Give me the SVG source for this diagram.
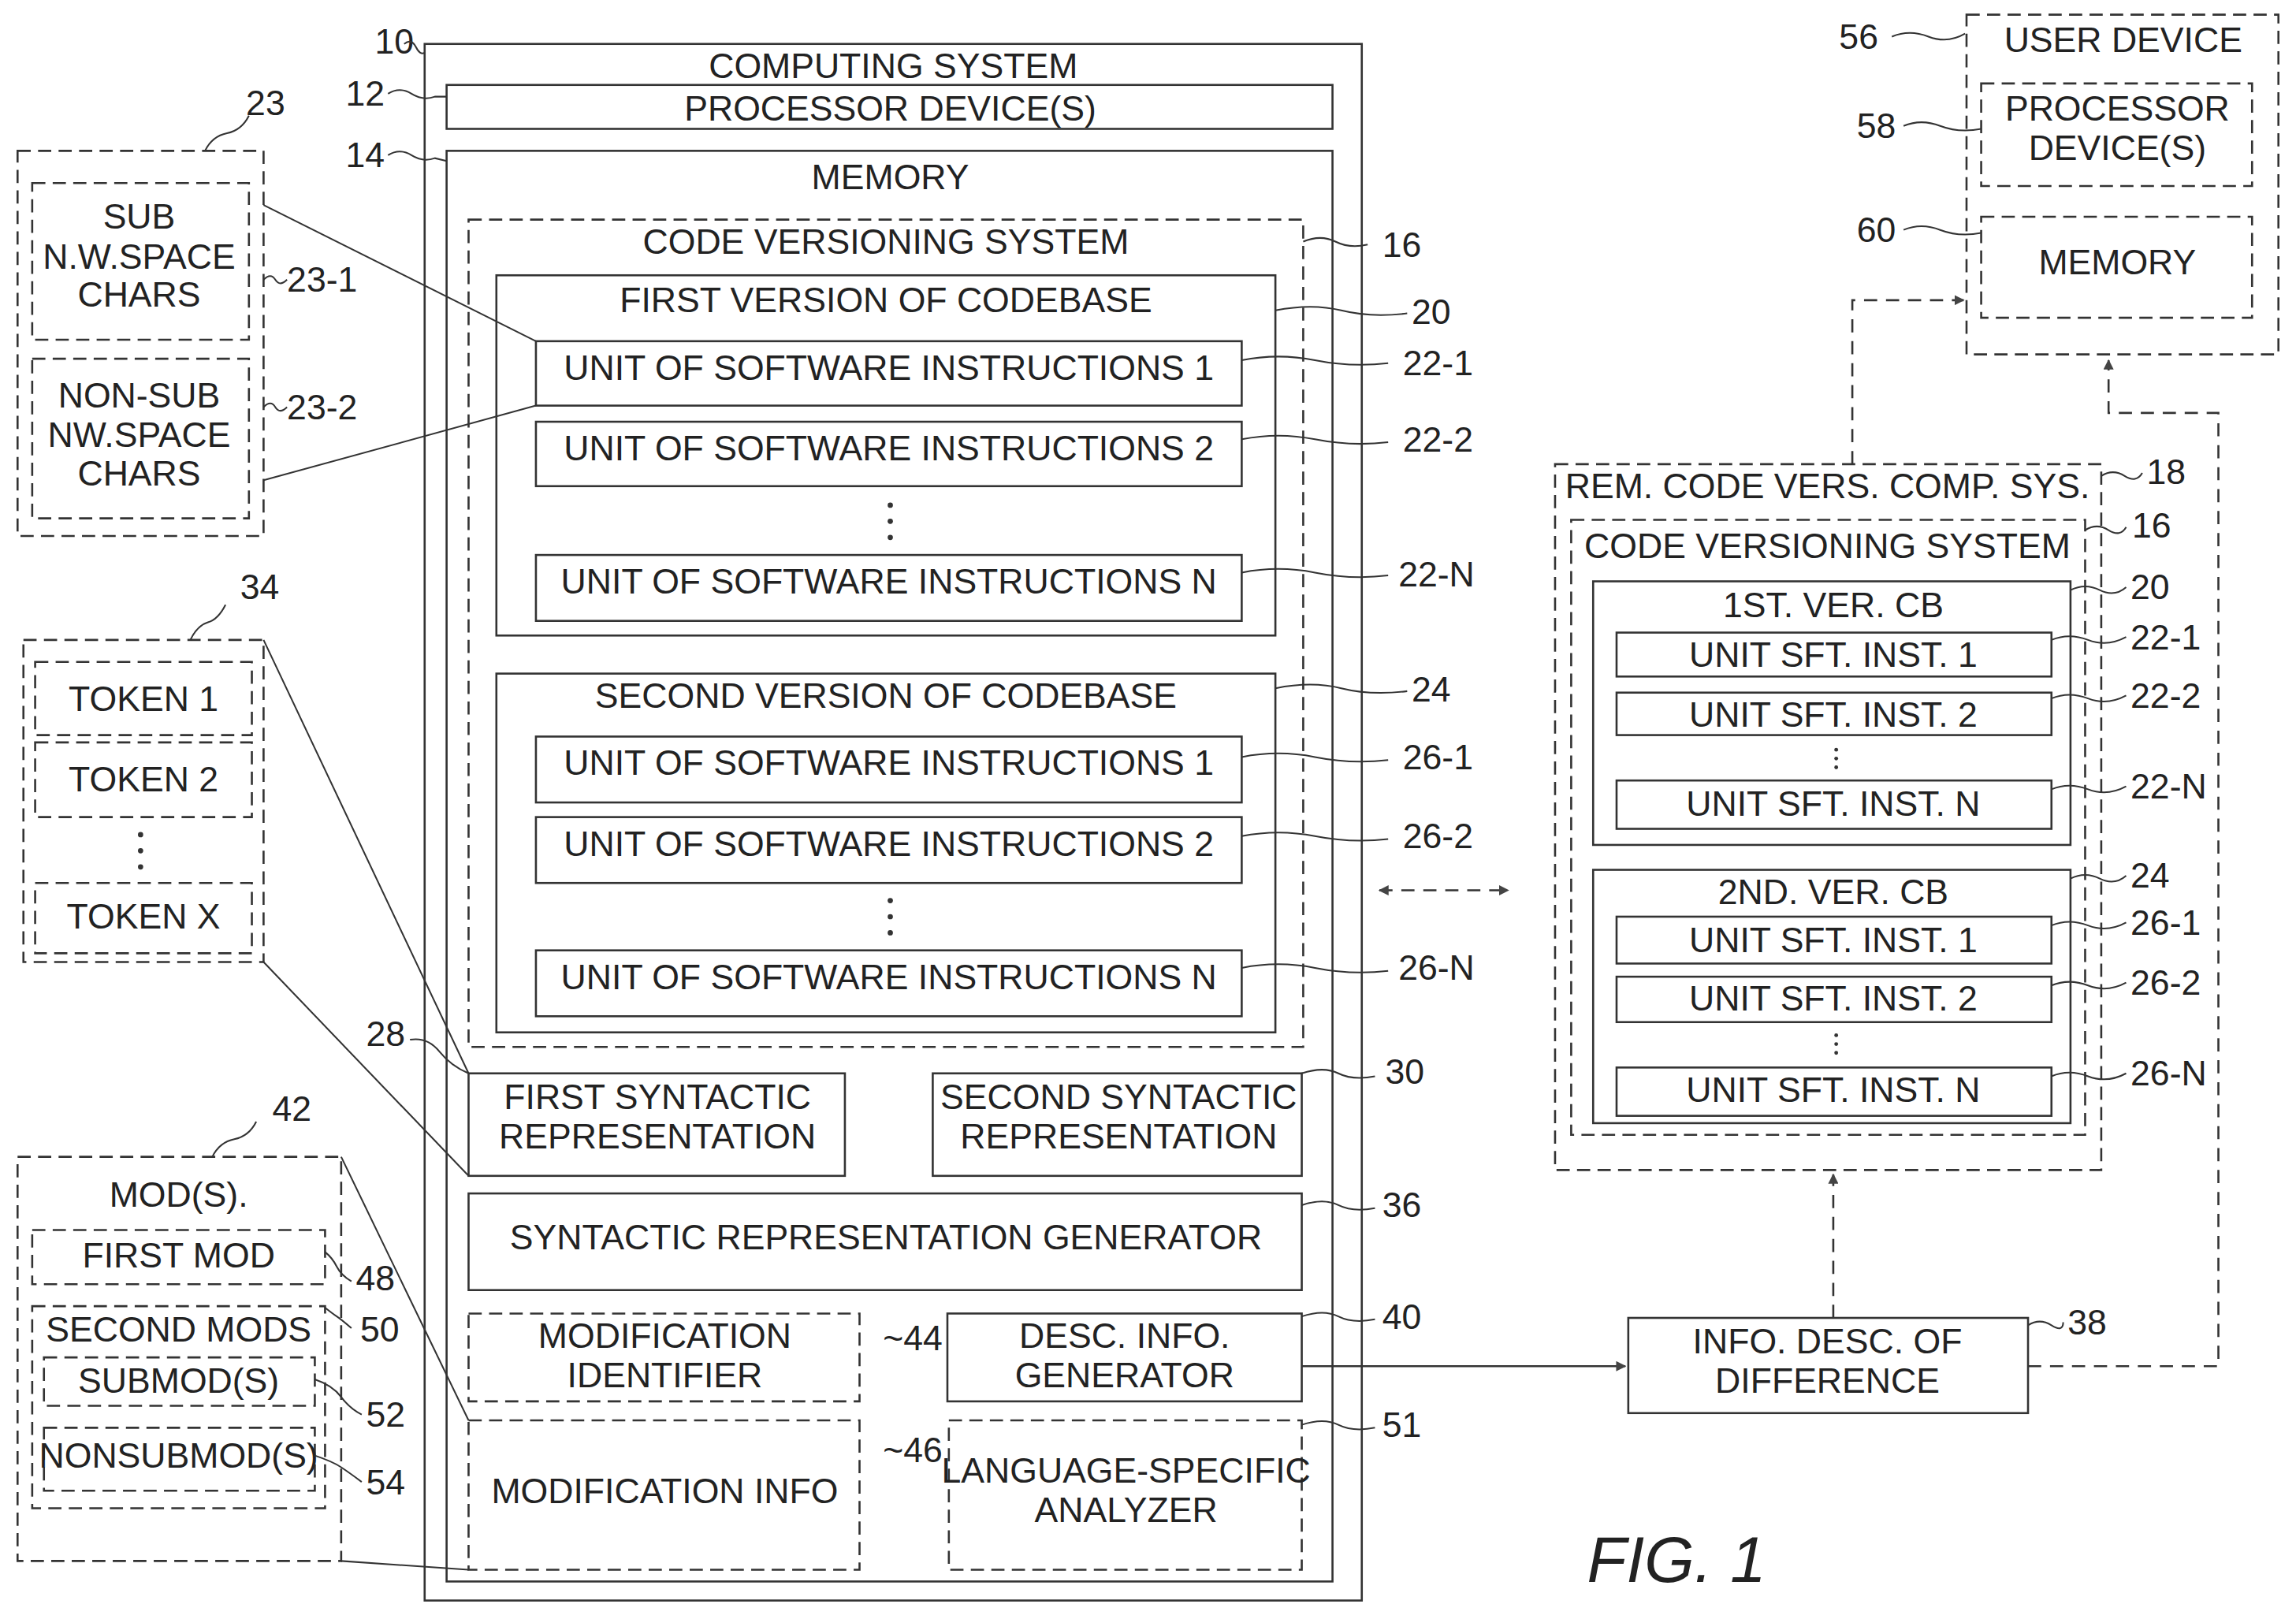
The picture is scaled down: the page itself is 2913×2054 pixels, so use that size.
<svg xmlns="http://www.w3.org/2000/svg" width="2913" height="2054" viewBox="0 0 2913 2054">
<style>
text{font-family:"Liberation Sans Narrow","Liberation Sans",Arial,sans-serif;font-size:24px;fill:#222;text-anchor:middle;dominant-baseline:central}
.lb{text-anchor:start}
.s{fill:none;stroke:#333;stroke-width:1.4}
.d{fill:none;stroke:#333;stroke-width:1.4;stroke-dasharray:9,5}
.l{fill:none;stroke:#333;stroke-width:1.1}
.a{fill:none;stroke:#333;stroke-width:1.4;stroke-dasharray:9,6}
</style>
<defs>
<marker id="ah" viewBox="0 0 10 10" refX="9" refY="5" markerWidth="7" markerHeight="7" orient="auto-start-reverse" markerUnits="userSpaceOnUse"><path d="M0,0 L10,5 L0,10 z" fill="#444"/></marker>
</defs>
<rect width="2913" height="2054" fill="#fff"/>
<g transform="scale(1.85778)">
<g id="n10"><rect class="s" x="290" y="30" width="640" height="1063"/><text x="610" y="45">COMPUTING SYSTEM</text><text class="lb" x="256" y="28">10</text></g>
<g id="n12"><rect class="s" x="305" y="58" width="605" height="30"/><text x="608" y="74">PROCESSOR DEVICE(S)</text><text class="lb" x="236" y="64">12</text></g>
<g id="n14"><rect class="s" x="305" y="103" width="605" height="977"/><text x="608" y="121">MEMORY</text><text class="lb" x="236" y="106">14</text></g>
<g id="n16"><rect class="d" x="320" y="150" width="570" height="565"/><text x="605" y="165">CODE VERSIONING SYSTEM</text><text class="lb" x="944" y="167">16</text></g>
<g id="n20"><rect class="s" x="339" y="188" width="532" height="246"/><text x="605" y="205">FIRST VERSION OF CODEBASE</text><text class="lb" x="964" y="213">20</text></g>
<g id="n22-1"><rect class="s" x="366" y="233" width="482" height="44"/><text x="607" y="251">UNIT OF SOFTWARE INSTRUCTIONS 1</text><text class="lb" x="958" y="248">22-1</text></g>
<g id="n22-2"><rect class="s" x="366" y="288" width="482" height="44"/><text x="607" y="306">UNIT OF SOFTWARE INSTRUCTIONS 2</text><text class="lb" x="958" y="300">22-2</text></g>
<g id="n22-N"><rect class="s" x="366" y="379" width="482" height="45"/><text x="607" y="397">UNIT OF SOFTWARE INSTRUCTIONS N</text><text class="lb" x="955" y="392">22-N</text></g>
<g id="n24"><rect class="s" x="339" y="460" width="532" height="245"/><text x="605" y="475">SECOND VERSION OF CODEBASE</text><text class="lb" x="964" y="471">24</text></g>
<g id="n26-1"><rect class="s" x="366" y="503" width="482" height="45"/><text x="607" y="521">UNIT OF SOFTWARE INSTRUCTIONS 1</text><text class="lb" x="958" y="517">26-1</text></g>
<g id="n26-2"><rect class="s" x="366" y="558" width="482" height="45"/><text x="607" y="576">UNIT OF SOFTWARE INSTRUCTIONS 2</text><text class="lb" x="958" y="571">26-2</text></g>
<g id="n26-N"><rect class="s" x="366" y="649" width="482" height="45"/><text x="607" y="667">UNIT OF SOFTWARE INSTRUCTIONS N</text><text class="lb" x="955" y="661">26-N</text></g>
<g id="dots"><g fill="#333"><circle cx="608" cy="345" r="1.8"/><circle cx="608" cy="356" r="1.8"/><circle cx="608" cy="367" r="1.8"/><circle cx="608" cy="615" r="1.8"/><circle cx="608" cy="626" r="1.8"/><circle cx="608" cy="637" r="1.8"/><circle cx="96" cy="570" r="1.8"/><circle cx="96" cy="581" r="1.8"/><circle cx="96" cy="592" r="1.8"/><circle cx="1254" cy="512" r="1.3"/><circle cx="1254" cy="518" r="1.3"/><circle cx="1254" cy="524" r="1.3"/><circle cx="1254" cy="707" r="1.3"/><circle cx="1254" cy="713" r="1.3"/><circle cx="1254" cy="719" r="1.3"/></g></g>
<g id="n28"><rect class="s" x="320" y="733" width="257" height="70"/><text x="449" y="749">FIRST SYNTACTIC</text><text x="449" y="776">REPRESENTATION</text><text class="lb" x="250" y="706">28</text></g>
<g id="n30"><rect class="s" x="637" y="733" width="252" height="70"/><text x="764" y="749">SECOND SYNTACTIC</text><text x="764" y="776">REPRESENTATION</text><text class="lb" x="946" y="732">30</text></g>
<g id="n36"><rect class="s" x="320" y="815" width="569" height="66"/><text x="605" y="845">SYNTACTIC REPRESENTATION GENERATOR</text><text class="lb" x="944" y="823">36</text></g>
<g id="n44"><rect class="d" x="320" y="897" width="267" height="60"/><text x="454" y="912">MODIFICATION</text><text x="454" y="939">IDENTIFIER</text><text class="lb" x="603" y="914">~44</text></g>
<g id="n40"><rect class="s" x="647" y="897" width="242" height="60"/><text x="768" y="912">DESC. INFO.</text><text x="768" y="939">GENERATOR</text><text class="lb" x="944" y="899">40</text></g>
<g id="n46"><rect class="d" x="320" y="970" width="267" height="102"/><text x="454" y="1018">MODIFICATION INFO</text><text class="lb" x="603" y="990">~46</text></g>
<g id="n51"><rect class="d" x="648" y="970" width="241" height="102"/><text x="769" y="1004">LANGUAGE-SPECIFIC</text><text x="769" y="1031">ANALYZER</text><text class="lb" x="944" y="973">51</text></g>
<g id="n23"><rect class="d" x="12" y="103" width="168" height="263"/><text class="lb" x="168" y="70">23</text></g>
<g id="n23-1"><rect class="d" x="22" y="125" width="148" height="107"/><text x="95" y="148">SUB</text><text x="95" y="175">N.W.SPACE</text><text x="95" y="201">CHARS</text><text class="lb" x="196" y="191">23-1</text></g>
<g id="n23-2"><rect class="d" x="22" y="245" width="148" height="109"/><text x="95" y="270">NON-SUB</text><text x="95" y="297">NW.SPACE</text><text x="95" y="323">CHARS</text><text class="lb" x="196" y="278">23-2</text></g>
<g id="n34"><rect class="d" x="16" y="437" width="164" height="220"/><text class="lb" x="164" y="401">34</text></g>
<g id="tok1"><rect class="d" x="24" y="452" width="148" height="50"/><text x="98" y="477">TOKEN 1</text></g>
<g id="tok2"><rect class="d" x="24" y="507" width="148" height="51"/><text x="98" y="532">TOKEN 2</text></g>
<g id="tokX"><rect class="d" x="24" y="603" width="148" height="48"/><text x="98" y="626">TOKEN X</text></g>
<g id="n42"><rect class="d" x="12" y="790" width="221" height="276"/><text x="122" y="816">MOD(S).</text><text class="lb" x="186" y="757">42</text></g>
<g id="n48"><rect class="d" x="22" y="840" width="200" height="37"/><text x="122" y="857">FIRST MOD</text><text class="lb" x="243" y="873">48</text></g>
<g id="n50"><rect class="d" x="22" y="892" width="200" height="138"/><text x="122" y="908">SECOND MODS</text><text class="lb" x="246" y="908">50</text></g>
<g id="n52"><rect class="d" x="30" y="927" width="185" height="33"/><text x="122" y="943">SUBMOD(S)</text><text class="lb" x="250" y="966">52</text></g>
<g id="n54"><rect class="d" x="30" y="975" width="185" height="43"/><text x="122" y="994">NONSUBMOD(S)</text><text class="lb" x="250" y="1012">54</text></g>
<g id="n56"><rect class="d" x="1343" y="10" width="213" height="232"/><text x="1450" y="27">USER DEVICE</text><text class="lb" x="1256" y="25">56</text></g>
<g id="n58"><rect class="d" x="1353" y="57" width="185" height="70"/><text x="1446" y="74">PROCESSOR</text><text x="1446" y="101">DEVICE(S)</text><text class="lb" x="1268" y="86">58</text></g>
<g id="n60"><rect class="d" x="1353" y="148" width="185" height="69"/><text x="1446" y="179">MEMORY</text><text class="lb" x="1268" y="157">60</text></g>
<g id="n18"><rect class="d" x="1062" y="317" width="373" height="482"/><text x="1248" y="332">REM. CODE VERS. COMP. SYS.</text><text class="lb" x="1466" y="322">18</text></g>
<g id="r16"><rect class="d" x="1073" y="355" width="351" height="420"/><text x="1248" y="373">CODE VERSIONING SYSTEM</text><text class="lb" x="1456" y="359">16</text></g>
<g id="r20"><rect class="s" x="1088" y="397" width="326" height="180"/><text x="1252" y="413">1ST. VER. CB</text><text class="lb" x="1455" y="401">20</text></g>
<g id="r22-1"><rect class="s" x="1104" y="432" width="297" height="30"/><text x="1252" y="447">UNIT SFT. INST. 1</text><text class="lb" x="1455" y="435">22-1</text></g>
<g id="r22-2"><rect class="s" x="1104" y="473" width="297" height="29"/><text x="1252" y="488">UNIT SFT. INST. 2</text><text class="lb" x="1455" y="475">22-2</text></g>
<g id="r22-N"><rect class="s" x="1104" y="533" width="297" height="33"/><text x="1252" y="549">UNIT SFT. INST. N</text><text class="lb" x="1455" y="537">22-N</text></g>
<g id="r24"><rect class="s" x="1088" y="594" width="326" height="173"/><text x="1252" y="609">2ND. VER. CB</text><text class="lb" x="1455" y="598">24</text></g>
<g id="r26-1"><rect class="s" x="1104" y="626" width="297" height="32"/><text x="1252" y="642">UNIT SFT. INST. 1</text><text class="lb" x="1455" y="630">26-1</text></g>
<g id="r26-2"><rect class="s" x="1104" y="667" width="297" height="31"/><text x="1252" y="682">UNIT SFT. INST. 2</text><text class="lb" x="1455" y="671">26-2</text></g>
<g id="r26-N"><rect class="s" x="1104" y="729" width="297" height="33"/><text x="1252" y="744">UNIT SFT. INST. N</text><text class="lb" x="1455" y="733">26-N</text></g>
<g id="n38"><rect class="s" x="1112" y="900" width="273" height="65"/><text x="1248" y="916">INFO. DESC. OF</text><text x="1248" y="943">DIFFERENCE</text><text class="lb" x="1412" y="903">38</text></g>
<text x="1145" y="1065" style="font-family:'Liberation Sans',Arial,sans-serif;font-size:44px;font-style:italic">FIG. 1</text>
<g id="connectors">
<path class="l" d="M180,140 L366,233 M180,328 L366,277 M180,437 L320,733 M180,657 L320,803 M233,790 L320,970 M233,1066 L320,1072"/>
<path class="s" d="M889,933 L1110,933" marker-end="url(#ah)"/>
<path class="a" d="M1252,900 L1252,802" marker-end="url(#ah)"/>
<path class="a" d="M1385,933 L1515,933 L1515,282 L1440,282 L1440,246" marker-end="url(#ah)"/>
<path class="a" d="M1265,317 L1265,205 L1341,205" marker-end="url(#ah)"/>
<path class="a" d="M942,608 L1030,608" marker-start="url(#ah)" marker-end="url(#ah)"/>
<g class="l">
<path d="M276,30 q5,-4 8,2 t6,4"/>
<path d="M265,64 q8,-5 16,0 t16,2 L305,66"/>
<path d="M265,106 q8,-5 16,0 t16,2 L305,110"/>
<path d="M890,165 q12,-5 22,0 t22,2"/>
<path d="M871,212 q25,-5 45,0 t45,2"/>
<path d="M848,246 q25,-5 50,0 t50,2"/>
<path d="M848,300 q25,-5 50,0 t50,2"/>
<path d="M848,391 q25,-5 50,0 t50,2"/>
<path d="M871,470 q25,-5 45,0 t45,2"/>
<path d="M848,517 q25,-5 50,0 t50,2"/>
<path d="M848,571 q25,-5 50,0 t50,2"/>
<path d="M848,661 q25,-5 50,0 t50,2"/>
<path d="M889,733 q15,-5 25,0 t25,2"/>
<path d="M889,823 q15,-5 25,0 t25,2"/>
<path d="M889,899 q15,-5 25,0 t25,2"/>
<path d="M889,973 q15,-5 25,0 t25,2"/>
<path d="M280,710 q12,-2 20,8 t20,15"/>
<path d="M140,103 q5,-10 15,-12 t15,-12"/>
<path d="M130,437 q5,-10 12,-12 t12,-12"/>
<path d="M145,790 q5,-10 15,-12 t15,-12"/>
<path d="M180,191 q5,-5 8,0 t8,0"/>
<path d="M180,278 q5,-5 8,0 t8,0"/>
<path d="M222,855 q5,4 8,10 t10,10"/>
<path d="M222,893 q5,4 8,6 t10,8"/>
<path d="M215,942 q12,4 18,12 t14,12"/>
<path d="M215,994 q12,4 18,8 t14,10"/>
<path d="M1292,25 q12,-5 25,0 t25,-2"/>
<path d="M1300,86 q12,-5 25,0 t28,2"/>
<path d="M1300,157 q12,-5 25,0 t28,2"/>
<path d="M1435,325 q8,-5 16,0 t12,-2"/>
<path d="M1424,362 q8,-5 16,0 t12,-2"/>
<path d="M1414,403 q10,-5 20,0 t18,-2"/>
<path d="M1401,437 q12,-5 25,0 t26,-2"/>
<path d="M1401,477 q12,-5 25,0 t26,-2"/>
<path d="M1401,539 q12,-5 25,0 t26,-2"/>
<path d="M1414,600 q10,-5 20,0 t18,-2"/>
<path d="M1401,632 q12,-5 25,0 t26,-2"/>
<path d="M1401,673 q12,-5 25,0 t26,-2"/>
<path d="M1401,735 q12,-5 25,0 t26,-2"/>
<path d="M1385,905 q8,-5 16,0 t8,-2"/>
</g>
</g>
</g>
</svg>
